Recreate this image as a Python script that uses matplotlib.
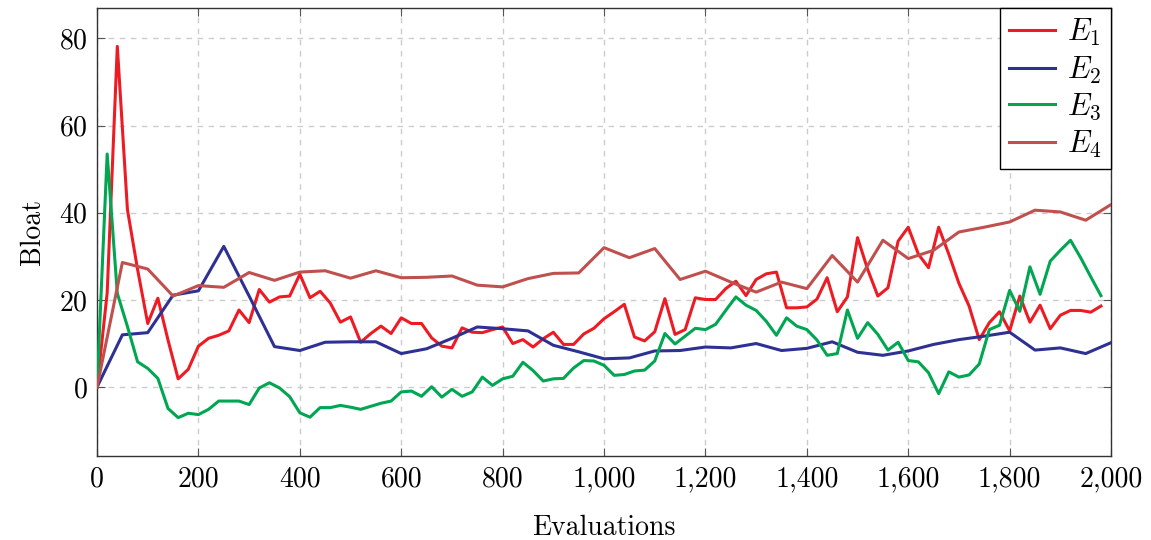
import numpy as np
import matplotlib
matplotlib.use("Agg")
import matplotlib.pyplot as plt
from matplotlib.ticker import FuncFormatter

# E1 and E3 are sampled every 20 evaluations, E2 and E4 every 50
e1 = [0, 21.6, 78.2, 40.7, 27.0, 14.6, 20.4, 10.8, 1.9, 4.1,
      9.4, 11.2, 11.9, 12.9, 17.7, 14.8, 22.4, 19.5, 20.7, 20.9,
      25.9, 20.5, 22.0, 19.3, 14.9, 16.1, 10.3, 12.3, 14.0, 12.3,
      15.9, 14.6, 14.6, 11.3, 9.4, 9.0, 13.6, 12.6, 12.5, 13.2,
      13.8, 10.0, 10.9, 9.2, 11.1, 12.6, 9.8, 9.8, 12.2, 13.5,
      15.7, 17.3, 19.0, 11.5, 10.6, 12.7, 20.3, 12.1, 13.2, 20.5,
      20.1, 20.1, 22.6, 24.3, 21.0, 24.7, 26.0, 26.4, 18.2, 18.2,
      18.4, 20.2, 25.1, 17.3, 20.7, 34.3, 27.0, 20.9, 22.8, 33.5,
      36.7, 30.5, 27.4, 36.7, 30.5, 23.8, 18.6, 10.9, 14.8, 17.3,
      12.9, 20.9, 14.9, 18.8, 13.4, 16.5, 17.6, 17.6, 17.2, 18.6]
e3 = [0, 53.5, 21.5, 13.9, 5.8, 4.3, 2.0, -4.9, -7.0, -6.0,
      -6.3, -5.1, -3.2, -3.2, -3.2, -4.0, -0.2, 1.0, -0.2, -2.2,
      -5.9, -6.9, -4.7, -4.7, -4.2, -4.6, -5.1, -4.4, -3.7, -3.2,
      -1.1, -0.9, -2.1, 0.1, -2.3, -0.5, -2.1, -1.1, 2.3, 0.4,
      1.9, 2.5, 5.7, 3.8, 1.4, 1.9, 2.0, 4.4, 6.1, 6.0,
      5.0, 2.7, 2.9, 3.7, 3.9, 6.0, 12.3, 9.9, 11.7, 13.5,
      13.2, 14.4, 17.6, 20.7, 18.8, 17.6, 15.1, 11.9, 15.9, 14.0,
      13.2, 10.8, 7.3, 7.7, 17.7, 11.2, 14.8, 12.1, 8.5, 10.3,
      6.1, 5.8, 3.3, -1.5, 3.5, 2.3, 2.8, 5.3, 13.2, 14.2,
      22.2, 17.4, 27.6, 21.3, 28.9, 31.4, 33.7, 29.7, 25.3, 21.0]
e2 = [0, 12.0, 12.5, 21.1, 22.1, 32.3, 20.9, 9.3, 8.4, 10.3,
      10.4, 10.4, 7.7, 8.8, 11.2, 13.8, 13.4, 12.9, 9.6, 8.1,
      6.5, 6.7, 8.3, 8.4, 9.2, 9.0, 10.0, 8.4, 8.9, 10.4,
      8.0, 7.3, 8.3, 9.8, 10.9, 11.7, 12.6, 8.5, 9.0, 7.7, 10.2]
e4 = [0, 28.6, 27.1, 20.9, 23.3, 22.9, 26.3, 24.5, 26.4, 26.7,
      25.0, 26.7, 25.1, 25.2, 25.5, 23.4, 23.0, 24.9, 26.1, 26.2,
      32.0, 29.7, 31.8, 24.7, 26.6, 24.1, 21.8, 24.1, 22.6, 30.2,
      24.1, 33.7, 29.5, 31.4, 35.6, 36.7, 37.9, 40.6, 40.2, 38.3, 41.9]

x_fine = np.arange(len(e1)) * 20
x_coarse = np.arange(len(e2)) * 50

series = [
    (x_fine, e1, r"$E_1$", "#ED1C24"),
    (x_coarse, e2, r"$E_2$", "#2E3192"),
    (x_fine, e3, r"$E_3$", "#00A651"),
    (x_coarse, e4, r"$E_4$", "#C0504D"),
]

plt.rcParams["font.family"] = "cmr10"
plt.rcParams["mathtext.fontset"] = "cm"
plt.rcParams["axes.formatter.use_mathtext"] = True
plt.rcParams["font.size"] = 20

fig = plt.figure(figsize=(11.51, 5.40), dpi=100)
ax = fig.add_axes([0.0843, 0.1556, 0.881, 0.8296])

for xs, ys, name, col in series:
    ax.plot(xs, ys, color=col, lw=2.2, label=name, zorder=3)

ax.set_xlim(0, 2000)
ax.set_ylim(-15.8, 87)
ax.set_xticks(np.arange(0, 2001, 200))
ax.set_yticks([0, 20, 40, 60, 80])
ax.xaxis.set_major_formatter(FuncFormatter(lambda v, p: f"{int(v):,}"))
ax.tick_params(direction="in", top=True, right=True, length=6,
               color="#555555", labelsize=20, pad=7)
ax.grid(True, color="#cccccc", ls=(0, (4, 4)), lw=1.0, zorder=0)
for s in ax.spines.values():
    s.set_color("#333333")
    s.set_linewidth(1.0)

ax.set_xlabel("Evaluations", fontsize=20, labelpad=16)
ax.set_ylabel("Bloat", fontsize=20, labelpad=9)

leg = ax.legend(loc="upper right", bbox_to_anchor=(1, 1), borderaxespad=0,
                fancybox=False, edgecolor="black", framealpha=1,
                fontsize=22, handlelength=1.5, handletextpad=0.4,
                labelspacing=0.2, borderpad=0.3)
leg.get_frame().set_linewidth(1.0)

fig.savefig("out.png", dpi=100)
